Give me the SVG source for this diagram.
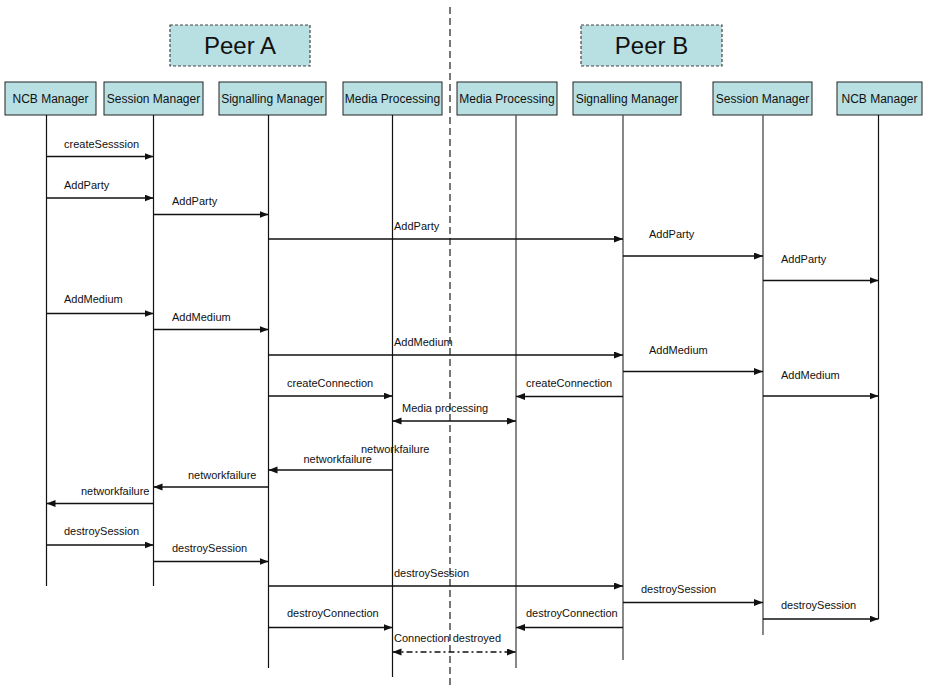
<svg xmlns="http://www.w3.org/2000/svg" width="929" height="688" viewBox="0 0 929 688">
<style>
text{font-family:"Liberation Sans",Arial,sans-serif;fill:#111}
.box{fill:#b8dfe2;stroke:#222;stroke-width:1}
.peer{fill:#b8dfe2;stroke:#444;stroke-width:1.2;stroke-dasharray:3 2}
.nl{font-size:12px;text-anchor:middle}
.pl{font-size:24px;text-anchor:middle}
.life{stroke:#111;stroke-width:1.2}
.lifeb{stroke:#555;stroke-width:1.4}
.m{stroke:#111;stroke-width:1.3;fill:none;marker-end:url(#ah)}
.d{stroke:#111;stroke-width:1.3;fill:none;marker-end:url(#ah);marker-start:url(#ah)}
.dd{stroke:#111;stroke-width:1.3;fill:none;stroke-dasharray:6 3 2 3;marker-end:url(#ah);marker-start:url(#ah)}
.lb{font-size:11px}
</style>
<defs>
<marker id="ah" markerUnits="userSpaceOnUse" markerWidth="10" markerHeight="8" refX="9" refY="3.5" orient="auto-start-reverse">
<path d="M0,0 L9,3.5 L0,7 z" fill="#111"/>
</marker>
</defs>
<rect width="929" height="688" fill="#fff"/>
<line x1="450" y1="7" x2="450" y2="688" stroke="#777" stroke-width="2" stroke-dasharray="7 4"/>
<g id="peerA"><rect class="peer" x="170" y="25" width="140" height="41"/><text class="pl" x="240" y="54">Peer A</text></g>
<g id="peerB"><rect class="peer" x="581" y="25" width="141" height="41"/><text class="pl" x="651.5" y="54">Peer B</text></g>
<g id="ncbA"><rect class="box" x="5" y="82" width="91" height="33"/><text class="nl" x="50.5" y="103">NCB Manager</text><line class="life" x1="46.5" y1="115" x2="46.5" y2="586"/></g>
<g id="sessionA"><rect class="box" x="104" y="82" width="99" height="33"/><text class="nl" x="153.5" y="103">Session Manager</text><line class="life" x1="153.5" y1="115" x2="153.5" y2="586"/></g>
<g id="signallingA"><rect class="box" x="219" y="82" width="107" height="33"/><text class="nl" x="272.5" y="103">Signalling Manager</text><line class="life" x1="268.5" y1="115" x2="268.5" y2="668"/></g>
<g id="mediaA"><rect class="box" x="343" y="82" width="99" height="33"/><text class="nl" x="392.5" y="103">Media Processing</text><line class="life" x1="392.5" y1="115" x2="392.5" y2="677"/></g>
<g id="mediaB"><rect class="box" x="457" y="82" width="100" height="33"/><text class="nl" x="507" y="103">Media Processing</text><line class="lifeb" x1="516" y1="115" x2="516" y2="668"/></g>
<g id="signallingB"><rect class="box" x="573" y="82" width="108" height="33"/><text class="nl" x="627" y="103">Signalling Manager</text><line class="lifeb" x1="623" y1="115" x2="623" y2="660"/></g>
<g id="sessionB"><rect class="box" x="713" y="82" width="99" height="33"/><text class="nl" x="762.5" y="103">Session Manager</text><line class="lifeb" x1="763" y1="115" x2="763" y2="635"/></g>
<g id="ncbB"><rect class="box" x="837" y="82" width="85" height="33"/><text class="nl" x="879.5" y="103">NCB Manager</text><line class="life" x1="878.5" y1="115" x2="878.5" y2="619"/></g>
<g id="connectors">
<line class="m" x1="46.5" y1="156.5" x2="153.5" y2="156.5"/><text class="lb" x="64" y="148">createSesssion</text>
<line class="m" x1="46.5" y1="198" x2="153.5" y2="198"/><text class="lb" x="64" y="189">AddParty</text>
<line class="m" x1="153.5" y1="214.5" x2="268.5" y2="214.5"/><text class="lb" x="172" y="205">AddParty</text>
<line class="m" x1="268.5" y1="239" x2="623" y2="239"/><text class="lb" x="394" y="230">AddParty</text>
<line class="m" x1="623" y1="256" x2="763" y2="256"/><text class="lb" x="649" y="237.5">AddParty</text>
<line class="m" x1="763" y1="280.5" x2="878.5" y2="280.5"/><text class="lb" x="781" y="262.5">AddParty</text>
<line class="m" x1="46.5" y1="313.5" x2="153.5" y2="313.5"/><text class="lb" x="64" y="303">AddMedium</text>
<line class="m" x1="153.5" y1="329.5" x2="268.5" y2="329.5"/><text class="lb" x="172" y="320.5">AddMedium</text>
<line class="m" x1="268.5" y1="355" x2="623" y2="355"/><text class="lb" x="394" y="346">AddMedium</text>
<line class="m" x1="623" y1="371.5" x2="763" y2="371.5"/><text class="lb" x="649" y="354">AddMedium</text>
<line class="m" x1="763" y1="396" x2="878.5" y2="396"/><text class="lb" x="781" y="378.5">AddMedium</text>
<line class="m" x1="268.5" y1="396" x2="392.5" y2="396"/><text class="lb" x="287" y="387">createConnection</text>
<line class="m" x1="623" y1="396.5" x2="516" y2="396.5"/><text class="lb" x="526" y="387">createConnection</text>
<line class="d" x1="392.5" y1="421" x2="516" y2="421"/><text class="lb" x="402" y="412">Media processing</text>
<line class="m" x1="392.5" y1="470" x2="268.5" y2="470"/><text class="lb" x="361" y="452.5">networkfailure</text><text class="lb" x="303.5" y="462.5">networkfailure</text>
<line class="m" x1="268.5" y1="487" x2="153.5" y2="487"/><text class="lb" x="188" y="478.5">networkfailure</text>
<line class="m" x1="153.5" y1="503.5" x2="46.5" y2="503.5"/><text class="lb" x="81" y="495">networkfailure</text>
<line class="m" x1="46.5" y1="545" x2="153.5" y2="545"/><text class="lb" x="64" y="535">destroySession</text>
<line class="m" x1="153.5" y1="561.5" x2="268.5" y2="561.5"/><text class="lb" x="172" y="552">destroySession</text>
<line class="m" x1="268.5" y1="586" x2="623" y2="586"/><text class="lb" x="394" y="576.5">destroySession</text>
<line class="m" x1="623" y1="602.5" x2="763" y2="602.5"/><text class="lb" x="641" y="593">destroySession</text>
<line class="m" x1="763" y1="619" x2="878.5" y2="619"/><text class="lb" x="781" y="609">destroySession</text>
<line class="m" x1="268.5" y1="627.5" x2="392.5" y2="627.5"/><text class="lb" x="287" y="617">destroyConnection</text>
<line class="m" x1="623" y1="627.5" x2="516" y2="627.5"/><text class="lb" x="526" y="617">destroyConnection</text>
<line class="dd" x1="392.5" y1="652" x2="516" y2="652"/><text class="lb" x="394" y="642">Connection destroyed</text>
</g>
</svg>
